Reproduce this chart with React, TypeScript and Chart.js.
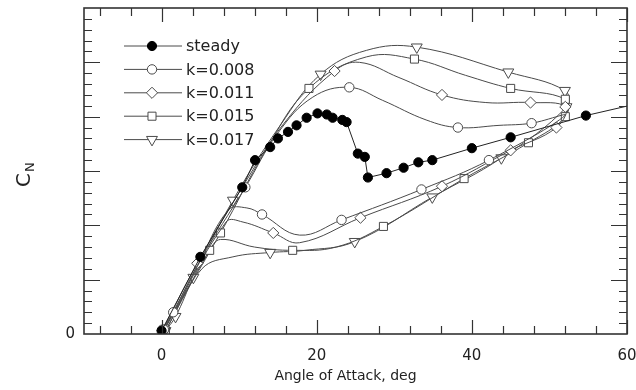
import React, { useEffect, useRef } from 'react';
import { Chart, registerables } from 'chart.js';

Chart.register(...registerables);

// ---------------- data ----------------
const seriesLabels = ['steady', 'k=0.008', 'k=0.011', 'k=0.015', 'k=0.017'];

const steadyAlpha = [0, 5, 10.4, 12.05, 14.0, 15.0, 16.3, 17.4, 18.7, 20.1, 21.3, 22.05, 23.3, 23.85, 25.3, 26.2, 26.6, 29.0, 31.2, 33.1, 34.9, 40.0, 45.0, 54.7, 62];
const steadyCn = [0.03, 0.71, 1.35, 1.60, 1.72, 1.80, 1.86, 1.92, 1.99, 2.03, 2.02, 1.99, 1.97, 1.95, 1.66, 1.63, 1.44, 1.48, 1.53, 1.58, 1.60, 1.71, 1.81, 2.01, 2.13];

// k = 0.008 (open circles) - pitch-up then pitch-down loop
const k008Alpha = [0.1, 1.5, 5.0, 10.8, 15.0, 19.5, 24.2, 28.5, 34.1, 38.2, 43.5, 47.7, 52.0, 42.2, 33.5, 23.2, 17.8, 12.95, 11.0, 8.6, 4.6, 0.3];
const k008Cn = [0.04, 0.20, 0.68, 1.35, 1.85, 2.18, 2.27, 2.15, 1.97, 1.90, 1.92, 1.94, 2.01, 1.60, 1.33, 1.05, 0.91, 1.10, 1.16, 1.14, 0.62, 0.04];
const k008Marked = [0, 1, 3, 6, 9, 11, 13, 14, 15, 17, 21];

// k = 0.011 (open diamonds)
const k011Alpha = [0.1, 4.6, 10.4, 15.8, 22.3, 25.5, 30.6, 36.15, 41.8, 47.56, 52.05, 50.9, 45.0, 36.15, 25.64, 17.8, 14.4, 10.5, 8.3, 0.3];
const k011Cn = [0.03, 0.65, 1.35, 1.94, 2.42, 2.50, 2.36, 2.20, 2.13, 2.13, 2.09, 1.90, 1.69, 1.36, 1.07, 0.84, 0.93, 1.03, 1.03, 0.03];
const k011Marked = [0, 1, 4, 7, 9, 10, 11, 12, 13, 14, 16, 19];

// k = 0.015 (open squares)
const k015Alpha = [0.2, 7.6, 13.5, 19.0, 26.4, 32.6, 39.2, 45.0, 52.05, 52.05, 47.3, 39.0, 28.6, 22.5, 16.9, 12.0, 7.6, 6.2, 0.5];
const k015Cn = [0.03, 0.93, 1.70, 2.26, 2.55, 2.53, 2.38, 2.26, 2.16, 2.00, 1.76, 1.43, 0.99, 0.80, 0.77, 0.80, 0.87, 0.77, 0.03];
const k015Marked = [0, 1, 3, 5, 7, 8, 9, 10, 11, 12, 14, 17, 18];

// k = 0.017 (open down-triangles)
const k017Alpha = [0.4, 1.8, 4.1, 9.2, 15.3, 20.5, 26.4, 32.9, 44.7, 52.0, 52.2, 43.8, 34.9, 24.9, 18.5, 14.0, 9.2, 5.2, 0.5];
const k017Cn = [0.02, 0.16, 0.52, 1.23, 1.92, 2.39, 2.61, 2.64, 2.41, 2.24, 2.09, 1.62, 1.26, 0.85, 0.77, 0.75, 0.71, 0.60, 0.03];
const k017Marked = [0, 1, 2, 3, 5, 7, 8, 9, 10, 11, 12, 13, 15, 18];

const xTickValues = [0, 20, 40, 60];
const yTickValues = [0];
const xTitle = 'Angle of Attack, deg';
const yTitleMain = 'C';
const yTitleSub = 'N';

// ---------------- styles ----------------
const LINE = '#4a4a4a';
const TEXT = '#222';
const FONT = 'DejaVu Sans';

const seriesStyles = [
  { style: 'circle', radius: 4.6, rotation: 0, fill: '#000' },
  { style: 'circle', radius: 4.7, rotation: 0, fill: '#fff' },
  { style: 'rectRot', radius: 5.6, rotation: 0, fill: '#fff' },
  { style: 'rect', radius: 5.7, rotation: 0, fill: '#fff' },
  { style: 'triangle', radius: 6.3, rotation: 180, fill: '#fff' },
];

const toPoints = (a: number[], c: number[]) => a.map((v, i) => ({ x: v, y: c[i] }));

function drawMarker(ctx: CanvasRenderingContext2D, s: any, x: number, y: number) {
  const r = s.radius;
  ctx.beginPath();
  if (s.style === 'circle') {
    ctx.arc(x, y, r, 0, Math.PI * 2);
  } else if (s.style === 'rect') {
    const h = Math.SQRT1_2 * r;
    ctx.rect(x - h, y - h, 2 * h, 2 * h);
  } else if (s.style === 'rectRot') {
    ctx.moveTo(x, y - r);
    ctx.lineTo(x + r, y);
    ctx.lineTo(x, y + r);
    ctx.lineTo(x - r, y);
    ctx.closePath();
  } else if (s.style === 'triangle') {
    let rad = (s.rotation * Math.PI) / 180;
    ctx.moveTo(x + Math.sin(rad) * r, y - Math.cos(rad) * r);
    rad += (2 * Math.PI) / 3;
    ctx.lineTo(x + Math.sin(rad) * r, y - Math.cos(rad) * r);
    rad += (2 * Math.PI) / 3;
    ctx.lineTo(x + Math.sin(rad) * r, y - Math.cos(rad) * r);
    ctx.closePath();
  }
  ctx.fillStyle = s.fill;
  ctx.fill();
  ctx.strokeStyle = s.fill === '#000' ? '#000' : LINE;
  ctx.lineWidth = 1;
  ctx.stroke();
}

const framePlugin = {
  id: 'frame',
  afterDatasetsDraw(chart: any) {
    const { ctx, chartArea: a, scales } = chart;
    const xs = scales.x;
    const ys = scales.y;
    ctx.save();
    ctx.strokeStyle = '#333';
    ctx.lineWidth = 1.2;
    ctx.beginPath();
    for (let v = -8; v <= 60; v += 4) {
      const px = Math.round(xs.getPixelForValue(v)) + 0.5;
      const len = v % 20 === 0 ? 14 : 8;
      ctx.moveTo(px, a.bottom);
      ctx.lineTo(px, a.bottom - len);
      ctx.moveTo(px, a.top);
      ctx.lineTo(px, a.top + len);
    }
    for (let i = 1; i < 30; i++) {
      const py = Math.round(ys.getPixelForValue(i / 10)) + 0.5;
      const len = i % 5 === 0 ? 16 : 8;
      ctx.moveTo(a.left, py);
      ctx.lineTo(a.left + len, py);
      ctx.moveTo(a.right, py);
      ctx.lineTo(a.right - len, py);
    }
    ctx.stroke();
    ctx.lineWidth = 1.6;
    ctx.strokeRect(a.left, a.top, a.right - a.left, a.bottom - a.top);
    ctx.restore();
  },
};

const legendPlugin = {
  id: 'inlineLegend',
  afterDraw(chart: any) {
    const { ctx, chartArea: a } = chart;
    ctx.save();
    chart.data.datasets.forEach((ds: any, i: number) => {
      const y = a.top + 38 + i * 23.4;
      const x0 = a.left + 40;
      ctx.strokeStyle = LINE;
      ctx.lineWidth = 1;
      ctx.beginPath();
      ctx.moveTo(x0, y);
      ctx.lineTo(x0 + 58, y);
      ctx.stroke();
      drawMarker(ctx, seriesStyles[i], x0 + 28, y);
      ctx.fillStyle = TEXT;
      ctx.font = `16px "${FONT}"`;
      ctx.textAlign = 'left';
      ctx.textBaseline = 'middle';
      ctx.fillText(ds.label, x0 + 62, y + 1);
    });
    ctx.restore();
  },
};

const titlesPlugin = {
  id: 'axisTitles',
  afterDraw(chart: any) {
    const { ctx, chartArea: a } = chart;
    ctx.save();
    ctx.fillStyle = TEXT;
    ctx.font = `14px "${FONT}"`;
    ctx.textAlign = 'center';
    ctx.textBaseline = 'alphabetic';
    ctx.fillText(xTitle, (a.left + a.right) / 2 - 10, 380);
    // rotated C with subscript N
    ctx.translate(30, 187);
    ctx.rotate(-Math.PI / 2);
    ctx.textAlign = 'left';
    ctx.font = `20px "${FONT}"`;
    ctx.fillText(yTitleMain, 0, 0);
    const w = ctx.measureText(yTitleMain).width;
    ctx.font = `13px "${FONT}"`;
    ctx.fillText(yTitleSub, w + 1, 4);
    ctx.restore();
  },
};

export default function App() {
  const ref = useRef<HTMLCanvasElement>(null);

  useEffect(() => {
    const canvas = ref.current;
    if (!canvas) return;
    const loops = [
      { a: steadyAlpha, c: steadyCn, m: null as number[] | null, t: 0 },
      { a: k008Alpha, c: k008Cn, m: k008Marked, t: 0.4 },
      { a: k011Alpha, c: k011Cn, m: k011Marked, t: 0.4 },
      { a: k015Alpha, c: k015Cn, m: k015Marked, t: 0.4 },
      { a: k017Alpha, c: k017Cn, m: k017Marked, t: 0.4 },
    ];
    const datasets = loops.map((L, i) => {
      const s = seriesStyles[i];
      return {
        label: seriesLabels[i],
        data: toPoints(L.a, L.c),
        showLine: true,
        borderColor: i === 0 ? '#222' : LINE,
        borderWidth: 1,
        tension: L.t,
        pointStyle: s.style,
        pointRotation: s.rotation,
        pointRadius: (ctx: any) => (L.m === null || L.m.includes(ctx.dataIndex) ? s.radius : 0),
        pointHoverRadius: (ctx: any) => (L.m === null || L.m.includes(ctx.dataIndex) ? s.radius : 0),
        pointBackgroundColor: s.fill,
        pointBorderColor: i === 0 ? '#000' : LINE,
        pointBorderWidth: 1,
      };
    });

    const chart = new Chart(canvas, {
      type: 'scatter',
      data: { datasets } as any,
      options: {
        animation: false,
        responsive: false,
        devicePixelRatio: 1,
        events: [],
        layout: { padding: { left: 0, right: 9, top: 8, bottom: 0 } },
        plugins: {
          legend: { display: false },
          tooltip: { enabled: false },
        },
        scales: {
          x: {
            type: 'linear',
            min: -10,
            max: 60,
            grid: { display: false, drawTicks: false },
            border: { display: false },
            afterBuildTicks: (s: any) => {
              s.ticks = xTickValues.map((v) => ({ value: v }));
            },
            afterFit: (s: any) => {
              s.height = 56;
              s.paddingLeft = 0;
              s.paddingRight = 0;
            },
            ticks: {
              font: { family: FONT, size: 15 },
              color: TEXT,
              padding: 13,
              maxRotation: 0,
              autoSkip: false,
            },
          },
          y: {
            type: 'linear',
            min: 0,
            max: 3,
            grid: { display: false, drawTicks: false },
            border: { display: false },
            afterBuildTicks: (s: any) => {
              s.ticks = yTickValues.map((v) => ({ value: v }));
            },
            afterFit: (s: any) => {
              s.width = 84;
              s.paddingTop = 0;
              s.paddingBottom = 0;
            },
            ticks: {
              font: { family: FONT, size: 15 },
              color: TEXT,
              padding: 9,
            },
          },
        },
      } as any,
      plugins: [framePlugin, legendPlugin, titlesPlugin],
    });
    return () => chart.destroy();
  }, []);

  return (
    <div style={{ position: 'absolute', left: 0, top: 0, width: 636, height: 390, background: '#fff' }}>
      <canvas ref={ref} width={636} height={390} style={{ display: 'block', width: 636, height: 390 }} />
    </div>
  );
}
